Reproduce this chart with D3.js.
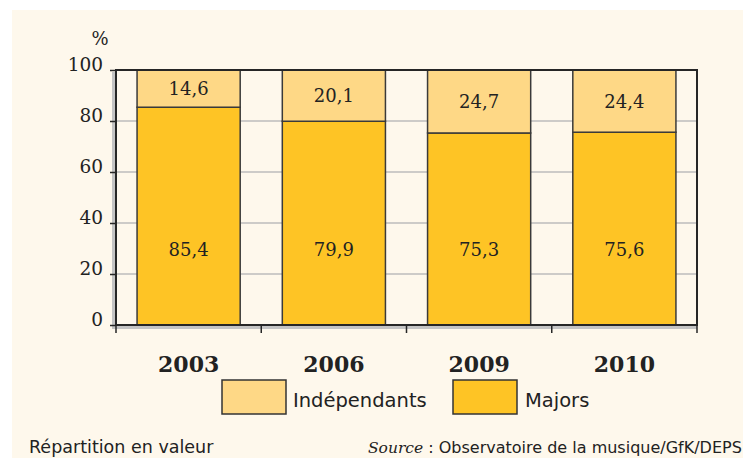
<!DOCTYPE html>
<html><head><meta charset="utf-8">
<script src="https://cdn.jsdelivr.net/npm/d3@7"></script>
<style>html,body{margin:0;padding:0;background:#fff;}svg{display:block;}</style>
</head><body>
<script>
const years = ["2003", "2006", "2009", "2010"];
const majors = [85.4, 79.9, 75.3, 75.6];
const independants = [14.6, 20.1, 24.7, 24.4];
const yTicks = [0, 20, 40, 60, 80, 100];
const seriesNames = ["Indépendants", "Majors"];
const seriesColors = ["#fed886", "#fec425"];
const fmt = v => String(v).replace(".", ",");

const W = 743, H = 458;
const svg = d3.select("body").append("svg").attr("width", W).attr("height", H);
svg.append("rect").attr("x", 12).attr("y", 10).attr("width", W - 12).attr("height", H - 10).attr("fill", "#fef8ec");

const L = 116, R = 697, T = 70, B = 325;
const x = d3.scaleBand().domain(years).range([L, R]).padding(0);
const y = d3.scaleLinear().domain([0, 100]).range([B, T]);
const barW = x.bandwidth() * 0.71;
const dark = "#262626";

// shadow
svg.append("rect").attr("x", L - 4).attr("y", T + 2).attr("width", 4).attr("height", B - T + 2).attr("fill", "#c4c4c4");
svg.append("rect").attr("x", L - 4).attr("y", B).attr("width", R - L + 4).attr("height", 4).attr("fill", "#c4c4c4");

// grid
svg.append("g").selectAll("line").data(yTicks.filter(t => t > 0 && t < 100)).join("line")
  .attr("x1", L).attr("x2", R).attr("y1", d => y(d)).attr("y2", d => y(d))
  .attr("stroke", "#bdbdbd").attr("stroke-width", 1.5);

const data = years.map((yr, i) => ({yr, m: majors[i], ind: independants[i]}));
const g = svg.append("g");
g.selectAll(".maj").data(data).join("rect")
  .attr("x", d => x(d.yr) + (x.bandwidth() - barW) / 2)
  .attr("width", barW).attr("y", d => y(d.m)).attr("height", d => y(0) - y(d.m))
  .attr("fill", seriesColors[1]).attr("stroke", "#3a3a3a").attr("stroke-width", 1.5);
g.selectAll(".ind").data(data).join("rect")
  .attr("x", d => x(d.yr) + (x.bandwidth() - barW) / 2)
  .attr("width", barW).attr("y", d => y(100)).attr("height", d => y(d.m) - y(100))
  .attr("fill", seriesColors[0]).attr("stroke", "#3a3a3a").attr("stroke-width", 1.5);

const serif = "'DejaVu Serif', serif";
g.selectAll(".lm").data(data).join("text")
  .attr("x", d => x(d.yr) + x.bandwidth() / 2).attr("y", y(29.5)).attr("dy", "0.36em")
  .attr("text-anchor", "middle").attr("font-family", serif).attr("font-size", 18).attr("fill", "#222")
  .text(d => fmt(d.m));
g.selectAll(".li").data(data).join("text")
  .attr("x", d => x(d.yr) + x.bandwidth() / 2).attr("y", d => (y(100) + y(d.m)) / 2).attr("dy", "0.36em")
  .attr("text-anchor", "middle").attr("font-family", serif).attr("font-size", 18).attr("fill", "#222")
  .text(d => fmt(d.ind));

// frame
svg.append("rect").attr("x", L).attr("y", T).attr("width", R - L).attr("height", B - T)
  .attr("fill", "none").attr("stroke", dark).attr("stroke-width", 2);

// y axis
const ya = svg.append("g").attr("transform", `translate(${L},0)`)
  .call(d3.axisLeft(y).tickValues(yTicks).tickSize(6).tickPadding(7));
ya.select(".domain").remove();
ya.selectAll(".tick line").attr("stroke", dark).attr("stroke-width", 1.5);
ya.selectAll(".tick text").attr("font-family", serif).attr("font-size", 18.5).attr("fill", "#222").attr("dy", "0");

// x axis
const xa = svg.append("g").attr("transform", `translate(0,${B})`)
  .call(d3.axisBottom(x).tickSize(0).tickPadding(31));
xa.select(".domain").remove();
xa.selectAll(".tick text").attr("font-family", serif).attr("font-weight", "bold").attr("font-size", 22).attr("fill", "#222");
svg.append("g").selectAll("line").data(years.map(yy => x(yy)).concat([R])).join("line")
  .attr("x1", d => d).attr("x2", d => d).attr("y1", B).attr("y2", B + 8)
  .attr("stroke", dark).attr("stroke-width", 1.5);

svg.append("text").attr("x", 100).attr("y", 45).attr("text-anchor", "middle")
  .attr("font-family", serif).attr("font-size", 18).attr("fill", "#222").text("%");

// legend
const sans = "'DejaVu Sans', sans-serif";
const legX = [222, 453], legT = [293, 525];
seriesNames.forEach((n, i) => {
  svg.append("rect").attr("x", legX[i]).attr("y", 380).attr("width", 64).attr("height", 34)
    .attr("fill", seriesColors[i]).attr("stroke", "#333").attr("stroke-width", 1.5);
  svg.append("text").attr("x", legT[i]).attr("y", 407).attr("font-family", sans).attr("font-size", 19.5)
    .attr("fill", "#222").text(n);
});

svg.append("text").attr("x", 29).attr("y", 453).attr("font-family", sans).attr("font-size", 17.5)
  .attr("fill", "#222").text("Répartition en valeur");
const src = svg.append("text").attr("x", 368).attr("y", 453).attr("font-family", sans).attr("font-size", 16).attr("fill", "#222");
src.append("tspan").attr("font-family", serif).attr("font-style", "italic").attr("font-size", 15.5).text("Source");
src.append("tspan").text(" : Observatoire de la musique/GfK/DEPS");
</script>
</body></html>
